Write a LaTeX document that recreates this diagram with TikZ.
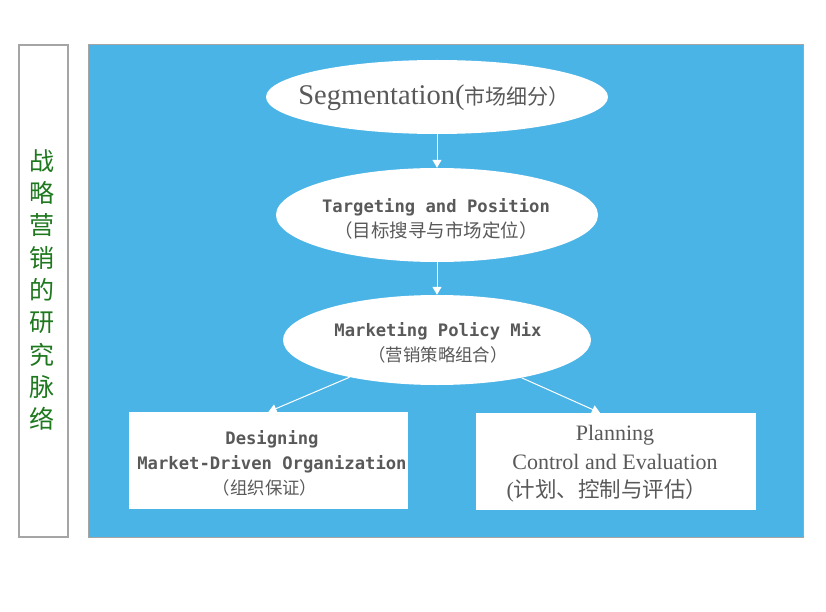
\documentclass[tikz,border=0pt]{standalone}
\usepackage{fontspec}
\setmainfont{Liberation Serif}
\newfontfamily\cjk{Noto Sans CJK SC}
\newfontfamily\monob{DejaVu Sans Mono}
\usetikzlibrary{shapes.geometric,arrows.meta}
\definecolor{skyblue}{RGB}{74,180,230}
\definecolor{textgray}{RGB}{89,89,89}
\definecolor{darkgreen}{RGB}{30,120,30}
\definecolor{bordergray}{RGB}{165,165,165}
\begin{document}
\begin{tikzpicture}[x=1pt,y=-1pt,
  ell/.style={ellipse, fill=white, draw=none, inner sep=0pt},
  boxw/.style={rectangle, fill=white, draw=none, inner sep=0pt},
  txt/.style={text=textgray, align=center, inner sep=0pt},
  arr/.style={draw=white, line width=1pt, -{Triangle[width=9pt,length=8pt]}}]
\useasboundingbox (0,0) rectangle (826,612);
\fill[white] (0,0) rectangle (826,612);
% side bar and panel
\node[rectangle, fill=white, draw=bordergray, line width=1.5pt, minimum width=49pt, minimum height=492pt, inner sep=0pt] (bar) at (43.5,291) {};
\node[txt, text=darkgreen, font=\cjk\fontsize{25}{32.3}\selectfont] (bartext) at (42,290) {战\\略\\营\\销\\的\\研\\究\\脉\\络};
\node[rectangle, fill=skyblue, draw=bordergray, line width=1pt, minimum width=715pt, minimum height=492pt, inner sep=0pt] (panel) at (445.5,291) {};
% ellipses
\node[ell, minimum width=342pt, minimum height=74pt] (e1) at (437,97) {};
\node[txt] (e1t) at (434,98) {{\fontsize{28.5}{30}\selectfont Segmentation(}{\cjk\fontsize{21}{30}\selectfont 市场细分）}};
\node[ell, minimum width=322pt, minimum height=94pt] (e2) at (437,215) {};
\node[txt, font=\fontsize{17.2}{25}\selectfont] (e2t) at (436,219) {{\monob\bfseries Targeting and Position}\\{\cjk\fontsize{18.5}{25}\selectfont （目标搜寻与市场定位）}};
\node[ell, minimum width=308pt, minimum height=90pt] (e3) at (437,340) {};
\node[txt, font=\fontsize{17.2}{25}\selectfont] (e3t) at (438,343) {{\monob\bfseries Marketing Policy Mix}\\{\cjk\fontsize{17.4}{25}\selectfont （营销策略组合）}};
% boxes
\node[boxw, minimum width=279pt, minimum height=97pt] (lbox) at (268.5,460.5) {};
\node[txt, font=\fontsize{17.2}{25}\selectfont] (lboxt) at (272,463) {{\monob\bfseries Designing}\\{\monob\bfseries Market-Driven Organization}\\{\cjk\fontsize{17.4}{25}\selectfont （组织保证）}\hspace*{14pt}};
\node[boxw, minimum width=280pt, minimum height=97pt] (rbox) at (616,461.5) {};
\node[txt, font=\fontsize{22}{28.5}\selectfont] (rboxt) at (615,464) {Planning\\Control and Evaluation\\(\cjk\fontsize{21.5}{28.5}\selectfont 计划、控制与评估）\hspace*{16pt}};
% arrows
\draw[arr] (e1) -- (e2);
\draw[arr] (e2) -- (e3);
\draw[arr] (e3) -- (lbox.north);
\draw[arr] (e3) -- ([xshift=-16pt]rbox.north);
\end{tikzpicture}
\end{document}
